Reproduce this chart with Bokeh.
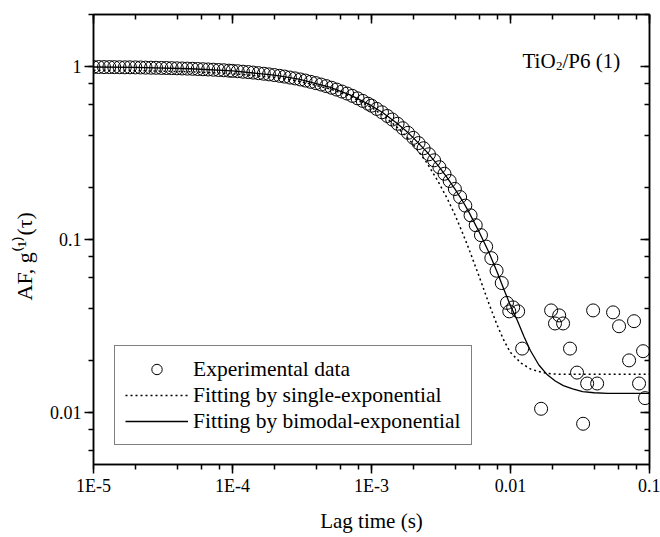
import math
from bokeh.plotting import figure
from bokeh.models import (LogAxis, LogTicker, CustomJSTickFormatter, Label,
                          Legend, LegendItem, Range1d, Title)
from bokeh.embed import file_html
from bokeh.resources import INLINE

# ---------------- data ----------------
tau_data = [
    1.00e-5, 1.09e-5, 1.19e-5, 1.30e-5, 1.41e-5, 1.54e-5, 1.68e-5, 1.83e-5, 2.00e-5,
    2.18e-5, 2.37e-5, 2.59e-5, 2.82e-5, 3.08e-5, 3.35e-5, 3.65e-5, 3.98e-5, 4.34e-5,
    4.73e-5, 5.16e-5, 5.62e-5, 6.13e-5, 6.68e-5, 7.28e-5, 7.94e-5, 8.65e-5, 9.43e-5,
    1.00e-4, 1.09e-4, 1.19e-4, 1.30e-4, 1.41e-4, 1.54e-4, 1.68e-4, 1.83e-4, 2.00e-4,
    2.18e-4, 2.37e-4, 2.59e-4, 2.82e-4, 3.08e-4, 3.35e-4, 3.65e-4, 3.98e-4, 4.34e-4,
    4.73e-4, 5.16e-4, 5.62e-4, 6.13e-4, 6.68e-4, 7.28e-4, 7.94e-4, 8.65e-4, 9.43e-4,
    1.00e-3, 1.09e-3, 1.19e-3, 1.30e-3, 1.41e-3, 1.54e-3, 1.68e-3, 1.83e-3, 2.00e-3,
    2.18e-3, 2.37e-3, 2.59e-3, 2.82e-3, 3.08e-3, 3.35e-3, 3.65e-3, 3.98e-3, 4.34e-3,
    4.73e-3, 5.16e-3, 5.62e-3, 6.13e-3, 6.68e-3, 7.28e-3, 7.94e-3, 8.65e-3, 9.43e-3,
    0.0098, 0.01045, 0.01135, 0.01213, 0.0166, 0.0196, 0.0209, 0.0224, 0.0239,
    0.0268, 0.0301, 0.0333, 0.0356, 0.0393, 0.0420, 0.0547, 0.0604, 0.0713,
    0.0774, 0.0841, 0.0899, 0.0929,
]
g_data = [
    0.994, 0.994, 0.993, 0.993, 0.992, 0.991, 0.990, 0.990, 0.989,
    0.988, 0.986, 0.985, 0.984, 0.982, 0.981, 0.979, 0.977, 0.975,
    0.973, 0.971, 0.968, 0.965, 0.962, 0.959, 0.955, 0.952, 0.947,
    0.944, 0.940, 0.934, 0.929, 0.923, 0.916, 0.909, 0.901, 0.893,
    0.884, 0.875, 0.864, 0.854, 0.842, 0.830, 0.816, 0.802, 0.787,
    0.771, 0.754, 0.736, 0.717, 0.698, 0.677, 0.655, 0.633, 0.610,
    0.594, 0.569, 0.544, 0.518, 0.494, 0.467, 0.440, 0.414, 0.387,
    0.361, 0.337, 0.311, 0.287, 0.262, 0.240, 0.218, 0.196, 0.176,
    0.157, 0.138, 0.121, 0.106, 0.091, 0.078, 0.066, 0.056, 0.043,
    0.0384, 0.0405, 0.0384, 0.0234, 0.0105, 0.0389, 0.0327, 0.0364, 0.0327,
    0.0234, 0.0170, 0.0086, 0.0147, 0.0389, 0.0147, 0.0379, 0.0315, 0.0200,
    0.0337, 0.0147, 0.0226, 0.0121,
]

tau_single = [1e-5, 2e-5, 5e-5, 1e-4, 2e-4, 3e-4, 5e-4, 7e-4, 1e-3, 1.25e-3, 1.5e-3,
              1.75e-3, 2e-3, 2.5e-3, 3e-3, 3.5e-3, 4e-3, 4.5e-3, 5e-3, 6e-3, 7e-3,
              8e-3, 9e-3, 0.01, 0.012, 0.014, 0.017, 0.02, 0.025, 0.1]
g_single = [0.952, 0.947, 0.933, 0.910, 0.865, 0.823, 0.744, 0.673, 0.580, 0.512, 0.452,
            0.400, 0.354, 0.278, 0.218, 0.173, 0.138, 0.110, 0.089, 0.060, 0.0425,
            0.0321, 0.0259, 0.0222, 0.0192, 0.0178, 0.0170, 0.0167, 0.0166, 0.0166]

tau_bimodal = [1e-5, 2e-5, 5e-5, 1e-4, 2e-4, 3e-4, 5e-4, 7e-4, 1e-3, 1.2e-3, 1.5e-3,
               1.75e-3, 2e-3, 2.5e-3, 3e-3, 3.5e-3, 4e-3, 4.5e-3, 5e-3, 6e-3, 7e-3,
               8e-3, 9e-3, 0.01, 0.0112, 0.0125, 0.0139, 0.016, 0.0184, 0.021, 0.024,
               0.028, 0.033, 0.04, 0.05, 0.1]
g_bimodal = [0.994, 0.989, 0.971, 0.944, 0.893, 0.845, 0.760, 0.686, 0.594, 0.542, 0.475,
             0.428, 0.387, 0.321, 0.269, 0.228, 0.195, 0.168, 0.145, 0.109, 0.084,
             0.065, 0.051, 0.0414, 0.034, 0.0275, 0.0228, 0.0188, 0.0165, 0.0152, 0.0143,
             0.0137, 0.0132, 0.0130, 0.0129, 0.0129]

x_tick_values = [1e-5, 1e-4, 1e-3, 1e-2, 1e-1]
x_tick_labels = ["1E-5", "1E-4", "1E-3", "0.01", "0.1"]
y_tick_values = [0.01, 0.1, 1.0]
y_tick_labels = ["0.01", "0.1", "1"]

legend_labels = ["Experimental data", "Fitting by single-exponential",
                 "Fitting by bimodal-exponential"]
x_title = "Lag time (s)"
y_title = "AF, g\u207d\u00b9\u207e(\u03c4)"
sample_parts = ["TiO", "2", "/P6 (1)"]

FONT = "Liberation Serif"

# ---------------- figure ----------------
p = figure(width=660, height=537, x_axis_type="log", y_axis_type="log",
           x_range=Range1d(1e-5, 0.1), y_range=Range1d(0.005, 2.0),
           output_backend="svg", toolbar_location=None,
           min_border_left=93, min_border_right=11, min_border_top=14,
           min_border_bottom=73)
p.background_fill_color = "white"
p.border_fill_color = "white"
p.outline_line_color = "black"
p.outline_line_width = 1.5
p.xgrid.visible = False
p.ygrid.visible = False

fmt_code = """
let best = 0; let bd = Infinity;
for (let i = 0; i < vals.length; i++) {
  const d = Math.abs(Math.log10(tick) - Math.log10(vals[i]));
  if (d < bd) { bd = d; best = i; }
}
return bd < 0.01 ? labels[best] : '';
"""
xfmt = CustomJSTickFormatter(args=dict(vals=x_tick_values, labels=x_tick_labels), code=fmt_code)
yfmt = CustomJSTickFormatter(args=dict(vals=y_tick_values, labels=y_tick_labels), code=fmt_code)
blank = CustomJSTickFormatter(code="return '';")


def style_axis(ax, outward):
    ax.axis_line_color = "black"
    ax.axis_line_width = 1.5
    ax.major_tick_line_color = "black"
    ax.minor_tick_line_color = "black"
    ax.major_tick_line_width = 1.5
    ax.minor_tick_line_width = 1.5
    if outward:
        ax.major_tick_out = 9
        ax.major_tick_in = 0
        ax.minor_tick_out = 5
        ax.minor_tick_in = 0
    else:
        ax.major_tick_out = 0
        ax.major_tick_in = 9
        ax.minor_tick_out = 0
        ax.minor_tick_in = 5
    ax.major_label_text_font = FONT
    ax.major_label_text_font_size = "18px"
    ax.major_label_text_color = "black"


xa = p.xaxis[0]
ya = p.yaxis[0]
xa.ticker = LogTicker()
ya.ticker = LogTicker()
xa.formatter = xfmt
ya.formatter = yfmt
style_axis(xa, True)
style_axis(ya, True)
xa.major_label_standoff = 2
ya.major_label_standoff = 3

xa.axis_label = x_title
xa.axis_label_text_font = FONT
xa.axis_label_text_font_size = "21px"
xa.axis_label_text_font_style = "normal"
xa.axis_label_text_color = "black"
xa.axis_label_standoff = 10

top = LogAxis(ticker=LogTicker(), formatter=blank)
right = LogAxis(ticker=LogTicker(), formatter=blank)
for ax in (top, right):
    style_axis(ax, False)
    ax.major_label_text_font_size = "0px"
    ax.major_label_standoff = 0
p.add_layout(top, "above")
p.add_layout(right, "right")

# y title as a side-panel title (reads bottom to top)
p.add_layout(Title(text=y_title, align="left", offset=164, vertical_align="top",
                   standoff=16, text_font=FONT, text_font_size="22px",
                   text_font_style="normal", text_color="black"), "left")

# ---------------- glyphs ----------------
r_data = p.scatter(tau_data, g_data, marker="circle", size=13, line_color="black",
                   line_width=1, fill_color=None)
r_single = p.line(tau_single, g_single, line_color="black", line_width=1.5,
                  line_dash="2 3")
r_bi = p.line(tau_bimodal, g_bimodal, line_color="black", line_width=1.3)

legend = Legend(items=[LegendItem(label=legend_labels[0], renderers=[r_data]),
                       LegendItem(label=legend_labels[1], renderers=[r_single]),
                       LegendItem(label=legend_labels[2], renderers=[r_bi])],
                location=(21, 19), padding=10, spacing=0, margin=0,
                glyph_width=63, glyph_height=26, label_height=26, label_standoff=5,
                label_text_font=FONT, label_text_font_size="21.5px",
                label_text_color="black",
                border_line_color="black", border_line_width=1,
                background_fill_color="white", background_fill_alpha=1.0)
p.add_layout(legend, "center")

# ---------------- sample annotation ----------------
p.add_layout(Label(x=429, y=404, x_units="screen", y_units="screen", text=sample_parts[0],
                   text_align="left", text_baseline="alphabetic", text_font=FONT,
                   text_font_size="21px", text_color="black"))
p.add_layout(Label(x=462.5, y=399, x_units="screen", y_units="screen", text=sample_parts[1],
                   text_align="left", text_baseline="alphabetic", text_font=FONT,
                   text_font_size="13px", text_color="black"))
p.add_layout(Label(x=469, y=404, x_units="screen", y_units="screen", text=sample_parts[2],
                   text_align="left", text_baseline="alphabetic", text_font=FONT,
                   text_font_size="21px", text_color="black"))

open("out.html", "w").write(file_html(p, INLINE))
